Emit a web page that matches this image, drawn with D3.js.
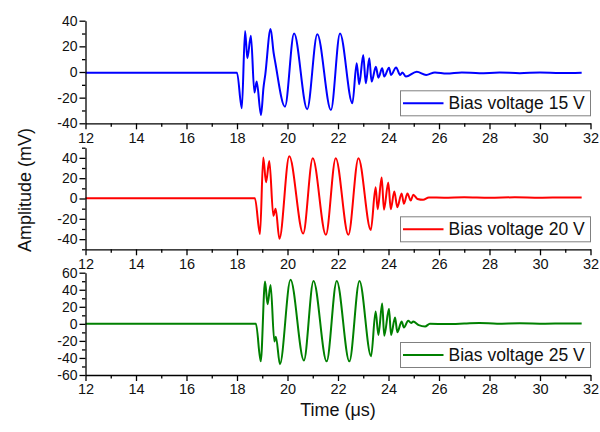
<!DOCTYPE html>
<html>
<head>
<meta charset="utf-8">
<script src="https://cdn.jsdelivr.net/npm/d3@7"></script>
<style>
  body { margin: 0; background: #fff; }
  svg { display: block; font-family: "Liberation Sans", Arial, sans-serif; }
</style>
</head>
<body>
<svg id="chart" width="600" height="432"></svg>
<script>
// ---- data: transducer response at three bias voltages (time in µs, amplitude in mV) ----
const xTicks = [12, 14, 16, 18, 20, 22, 24, 26, 28, 30, 32];
const xMinorTicks = [13, 15, 17, 19, 21, 23, 25, 27, 29, 31];
const seriesLabels = ["Bias voltage 15 V", "Bias voltage 20 V", "Bias voltage 25 V"];
const seriesColors = ["#0000ff", "#ff0000", "#008000"];

const yDomain15 = [-40, 40];
const yTicks15 = [-40, -20, 0, 20, 40];
const yMinor15 = [-30, -10, 10, 30];
const yDomain20 = [-50, 50];
const yTicks20 = [-40, -20, 0, 20, 40];
const yMinor20 = [-50, -30, -10, 10, 30, 50];
const yDomain25 = [-60, 60];
const yTicks25 = [-60, -40, -20, 0, 20, 40, 60];
const yMinor25 = [-50, -30, -10, 10, 30, 50];

const time15 = [12, 18.0, 18.19, 18.32, 18.41, 18.55, 18.69, 18.78, 18.95, 19.05, 19.12, 19.33, 19.45, 19.52,
  19.9, 20.26, 20.78, 21.18, 21.72, 22.08, 22.57, 22.74, 22.84, 23.0, 23.1, 23.24, 23.33, 23.5, 23.6, 23.75,
  23.83, 24.02, 24.1, 24.3, 24.46, 24.55, 24.69, 25.12, 25.49, 25.84, 26.3, 26.9, 27.6, 28.4, 29.2, 30.0, 30.8, 31.65];
const amp15 = [-0.5, -0.5, -28.3, 32, 10.7, 28.3, -16, -7.5, -33.5, -12, -2, 33.5, 15, 7,
  -27, 30, -29, 29.4, -29.6, 30, -24.4, 6.8, -9.6, 13.2, -8.8, 10.7, -7.5, 4, -4.4, 2.9,
  -3.6, 3.4, -2.3, 3.6, -2.3, -0.3, -3.6, 0.2, -2.3, -0.3, -1.2, -0.3, -1.0, -0.4, -0.9, -0.3, -0.8, -0.5];

const time20 = [12, 18.71, 18.91, 19.04, 19.15, 19.28, 19.44, 19.53, 19.68, 20.07, 20.62, 21.0, 21.52, 21.91,
  22.41, 22.81, 23.3, 23.49, 23.57, 23.73, 23.82, 23.99, 24.09, 24.23, 24.35, 24.52, 24.61, 24.75, 24.88,
  24.98, 25.15, 25.37, 25.6, 26.2, 27.0, 28.0, 29.0, 30.0, 31.0, 31.65];
const amp20 = [0.3, 0.3, -35, 40.4, 16, 37, -17, -10, -39.7, 41.5, -34.5, 39.5, -35.7, 39.7,
  -35.7, 39.7, -31, 11, -10.5, 20.7, -11, 15.7, -10.5, 7, -8.5, 5, -5.2, 5, -2,
  3.6, -0.5, -1.3, 1.0, 0.8, 1.2, 0.7, 1.2, 0.8, 1.1, 1.0];

const time25 = [12, 18.75, 18.94, 19.11, 19.21, 19.33, 19.48, 19.54, 19.7, 20.12, 20.65, 21.03, 21.55, 21.95,
  22.45, 22.85, 23.31, 23.49, 23.6, 23.75, 23.83, 24.02, 24.1, 24.26, 24.35, 24.52, 24.61, 24.78, 24.9,
  24.98, 25.2, 25.45, 25.64, 26.3, 27.0, 27.6, 28.3, 29.2, 30.2, 31.0, 31.65];
const amp25 = [0, 0, -44, 49.6, 23, 45.7, -20.7, -15, -47.3, 51.6, -43, 50.4, -44, 50.4,
  -44, 50.4, -38, 14.5, -13, 24, -14, 17.6, -13, 7.4, -9.8, 2.7, -4.3, 3.5, 1.0,
  2.7, -1.5, -3, 0, -0.3, 0.3, 1, 0.2, 0.6, 0.2, 0.5, 0.5];

// ---- layout ----
const plotLeft = 85.5, plotRight = 590.5;
const panels = [
  { top: 20.7, bottom: 123.3, domain: yDomain15, ticks: yTicks15, minor: yMinor15, t: time15, v: amp15 },
  { top: 147.7, bottom: 249.3, domain: yDomain20, ticks: yTicks20, minor: yMinor20, t: time20, v: amp20 },
  { top: 272.7, bottom: 375, domain: yDomain25, ticks: yTicks25, minor: yMinor25, t: time25, v: amp25 }
];

const svg = d3.select("#chart");
const x = d3.scaleLinear().domain([12, 32]).range([plotLeft, plotRight]);

panels.forEach((p, i) => {
  const y = d3.scaleLinear().domain(p.domain).range([p.bottom, p.top]);
  const g = svg.append("g");

  // waveform
  const pts = p.t.map((t, k) => [t, p.v[k]]);
  const line = d3.line().x(d => x(d[0])).y(d => y(d[1])).curve(d3.curveMonotoneX);
  g.append("path")
    .datum(pts)
    .attr("d", line)
    .attr("fill", "none")
    .attr("stroke", seriesColors[i])
    .attr("stroke-width", 2)
    .attr("stroke-linejoin", "round");

  // minor ticks
  g.append("g")
    .attr("transform", `translate(0,${p.bottom})`)
    .call(d3.axisBottom(x).tickValues(xMinorTicks).tickSize(3.5).tickFormat(""))
    .call(a => a.select(".domain").remove());
  g.append("g")
    .attr("transform", `translate(${plotLeft},0)`)
    .call(d3.axisLeft(y).tickValues(p.minor).tickSize(3.5).tickFormat(""))
    .call(a => a.select(".domain").remove());

  // major axes
  const xa = g.append("g")
    .attr("transform", `translate(0,${p.bottom})`)
    .call(d3.axisBottom(x).tickValues(xTicks).tickSize(6).tickSizeOuter(0).tickPadding(3));
  xa.selectAll("text").attr("font-size", 14.5).attr("fill", "#111").attr("font-family", null);

  const ya = g.append("g")
    .attr("transform", `translate(${plotLeft},0)`)
    .call(d3.axisLeft(y).tickValues(p.ticks).tickSize(6).tickSizeOuter(0).tickPadding(2)
      .tickFormat(d3.format("d")));
  ya.selectAll("text").attr("font-size", 14).attr("fill", "#111").attr("font-family", null);

  g.selectAll(".domain, .tick line").attr("stroke", "#000").attr("stroke-width", 1.3);
  g.selectAll(".tick text").text(function () { return this.textContent.replace("\u2212", "-"); });

  // legend
  const lg = g.append("g").attr("transform", `translate(400.5,${p.bottom - 32.5})`);
  lg.append("rect")
    .attr("width", 190).attr("height", 25)
    .attr("fill", "#fff").attr("stroke", "#808080").attr("stroke-width", 1);
  lg.append("line")
    .attr("x1", 2.5).attr("x2", 43).attr("y1", 12.5).attr("y2", 12.5)
    .attr("stroke", seriesColors[i]).attr("stroke-width", 2);
  lg.append("text")
    .attr("x", 48).attr("y", 18.5)
    .attr("font-size", 17.5).attr("fill", "#111")
    .text(seriesLabels[i]);
});

// axis titles
svg.append("text")
  .attr("transform", "translate(31,190) rotate(-90)")
  .attr("text-anchor", "middle")
  .attr("font-size", 18).attr("fill", "#111")
  .text("Amplitude (mV)");
svg.append("text")
  .attr("x", 338).attr("y", 416)
  .attr("text-anchor", "middle")
  .attr("font-size", 18).attr("fill", "#111")
  .text("Time (\u03bcs)");
</script>
</body>
</html>
